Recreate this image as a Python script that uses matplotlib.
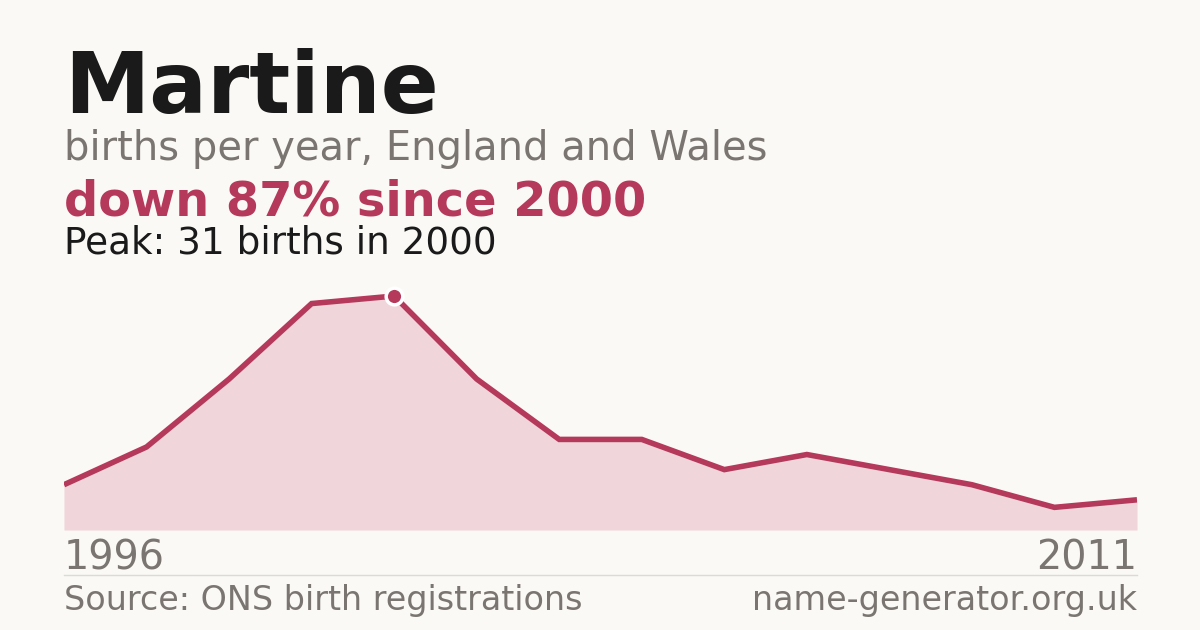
import matplotlib
matplotlib.use("Agg")
import matplotlib.pyplot as plt

plt.rcParams['font.family'] = ['DejaVu Sans']

# --- datos ---
name = "Martine"
years = [1996, 1997, 1998, 1999, 2000, 2001, 2002, 2003, 2004, 2005, 2006, 2007, 2009, 2011]
births = [6, 11, 20, 30, 31, 20, 12, 12, 8, 10, 8, 6, 3, 4]
peak_idx = births.index(max(births))

BG = "#faf9f5"
RED = "#b5395a"
FILL = "#f0d5da"
GREY = "#7a7570"
DARK = "#1a1a1a"

fig = plt.figure(figsize=(12, 6.3), dpi=100, facecolor=BG)

W, H = 1200, 630
left, right = 64, 1137
base_y, peak_y = 530, 296
top_pad = 1.08
ax_h = (base_y - peak_y) * top_pad
ax = fig.add_axes([left / W, (H - base_y) / H, (right - left) / W, ax_h / H])
ax.set_facecolor(BG)

x = list(range(len(births)))
ax.fill_between(x, births, 0, color=FILL, lw=0)
ax.plot(x, births, color=RED, lw=4, solid_joinstyle="miter", solid_capstyle="butt")
ax.plot(x[peak_idx], births[peak_idx], "o", ms=12, color=RED, mec="white", mew=2.5, zorder=5)

ax.set_xlim(0, len(births) - 1)
ax.set_ylim(0, max(births) * top_pad)
ax.axis("off")

# --- textos ---
fig.text(left / W, 1 - 113 / H, name, fontsize=61.7, fontweight="bold", color=DARK, va="baseline")
fig.text(left / W, 1 - 160 / H, "births per year, England and Wales", fontsize=28.8, color=GREY, va="baseline")
drop = round((births[peak_idx] - births[-1]) / births[peak_idx] * 100)
fig.text(left / W, 1 - 215 / H, f"down {drop}% since {years[peak_idx]}", fontsize=34.5,
         fontweight="bold", color=RED, va="baseline")
fig.text(left / W, 1 - 254 / H, f"Peak: {births[peak_idx]} births in {years[peak_idx]}",
         fontsize=26.9, color=DARK, va="baseline")

fig.text(left / W, 1 - 570 / H, str(years[0]), fontsize=28.6, color=GREY, va="baseline", ha="left")
fig.text(right / W, 1 - 570 / H, str(years[-1]), fontsize=28.6, color=GREY, va="baseline", ha="right")

fig.add_artist(plt.Line2D([left / W, right / W], [1 - 574.5 / H, 1 - 574.5 / H],
                          color="#dddad4", lw=1))

fig.text(left / W, 1 - 610 / H, "Source: ONS birth registrations", fontsize=24, color=GREY, va="baseline")
fig.text(right / W, 1 - 610 / H, "name-generator.org.uk", fontsize=24, color=GREY,
         va="baseline", ha="right")

fig.savefig("out.png", dpi=100, facecolor=BG)
